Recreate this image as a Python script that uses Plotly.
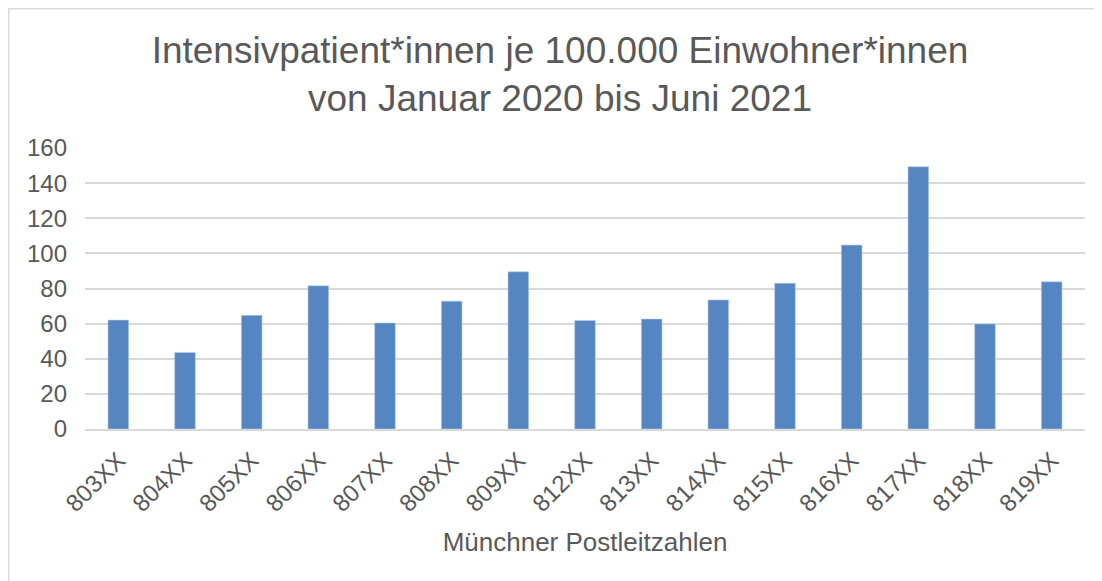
import plotly.graph_objects as go

plz = ["803XX", "804XX", "805XX", "806XX", "807XX", "808XX", "809XX", "812XX",
       "813XX", "814XX", "815XX", "816XX", "817XX", "818XX", "819XX"]
patienten = [62, 43.6, 64.7, 81.5, 60.4, 72.8, 89.5, 61.8,
             62.6, 73.5, 83, 104.7, 149.3, 59.8, 83.8]
y_ticks = [0, 20, 40, 60, 80, 100, 120, 140, 160]

grey = "#595959"
grid = "#D9D9D9"
font = "Liberation Sans, Arial, sans-serif"

fig = go.Figure(go.Bar(
    x=plz,
    y=patienten,
    marker=dict(color="#5586C1", line=dict(color="#B8CCE6", width=0.6)),
))

# page body adds 8px, so margins are shifted by that
fig.update_layout(
    width=1102, height=581,
    margin=dict(l=77, r=25, t=140, b=160),
    paper_bgcolor="white", plot_bgcolor="white",
    font=dict(family=font, color=grey),
    bargap=0.69,
    showlegend=False,
    title=dict(
        text="Intensivpatient*innen je 100.000 Einwohner*innen<br>von Januar 2020 bis Juni 2021",
        font=dict(size=37, color=grey, family=font),
        x=552 / 1102, xanchor="center", xref="container",
        y=0.905, yanchor="top", yref="container",
    ),
    xaxis=dict(
        automargin=False,
        tickangle=-45,
        tickfont=dict(size=24, color=grey),
        showgrid=False,
        showline=True, linecolor=grid, linewidth=2,
        ticks="",
        ticklabelstandoff=6,
        title=dict(text="Münchner Postleitzahlen", font=dict(size=26, color=grey), standoff=17),
    ),
    yaxis=dict(
        automargin=False,
        range=[0, 160],
        tickvals=y_ticks,
        tickfont=dict(size=24, color=grey),
        showgrid=True, gridcolor=grid, gridwidth=2,
        zeroline=False,
        ticks="",
        ticklabelstandoff=17,
    ),
    shapes=[
        dict(type="line", xref="paper", yref="paper", x0=-0.0765, x1=-0.0765,
             y0=-0.6, y1=1.496, line=dict(color=grid, width=2)),
        dict(type="line", xref="paper", yref="paper", x0=-0.0765, x1=1.1,
             y0=1.496, y1=1.496, line=dict(color=grid, width=2)),
    ],
)

fig.write_html("out.html")
